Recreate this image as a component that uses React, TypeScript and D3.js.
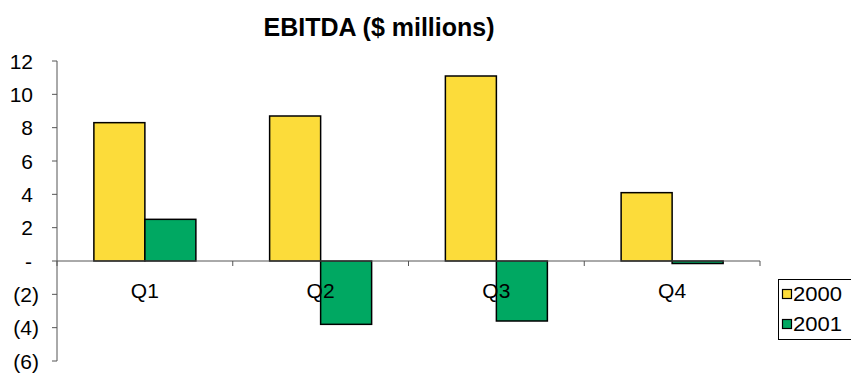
import React from "react";
import * as d3 from "d3";

const categories = ["Q1", "Q2", "Q3", "Q4"];
const seriesNames = ["2000", "2001"];
const values2000 = [8.3, 8.7, 11.1, 4.1];
const values2001 = [2.5, -3.8, -3.6, -0.15];
const yTicks = [12, 10, 8, 6, 4, 2, 0, -2, -4, -6];
const colors = ["#FCDC3A", "#00A862"];

function fmt(v: number) {
  if (v === 0) return "-";
  if (v < 0) return `(${Math.abs(v)})`;
  return String(v);
}

export default function App() {
  const W = 851, H = 377;
  const x0 = 57, x1 = 760;
  const y = d3.scaleLinear().domain([-6, 12]).range([361, 61]);
  const xb = d3.scaleBand().domain(categories).range([x0, x1]).paddingInner(0).paddingOuter(0);
  const bw = 51;
  const data = [values2000, values2001];
  const zeroY = y(0);
  return (
    <svg width={W} height={H} style={{ position: "absolute", left: 0, top: 0, fontFamily: "'Liberation Sans', Arial, sans-serif" }}>
      <rect width={W} height={H} fill="#fff" />
      <text x={379} y={36} textAnchor="middle" fontSize={25} fontWeight="bold">EBITDA ($ millions)</text>
      {/* y axis */}
      <line x1={x0} x2={x0} y1={y(12)} y2={y(-6)} stroke="#555" strokeWidth={1} />
      {yTicks.map((t) => (
        <g key={t}>
          <line x1={x0 - 5} x2={x0} y1={y(t)} y2={y(t)} stroke="#555" />
          <text
            x={t < 0 ? 39 : t === 0 ? 32 : 33}
            y={y(t)}
            dy="0.36em"
            textAnchor="end"
            fontSize={21}
          >{fmt(t)}</text>
        </g>
      ))}
      {/* bars */}
      {categories.map((c, i) => {
        const cx = (xb(c) as number) + xb.bandwidth() / 2;
        return data.map((vals, s) => {
          const v = vals[i];
          const bx = cx - bw + s * bw;
          const top = Math.min(y(v), zeroY);
          const h = Math.abs(y(v) - zeroY);
          return (
            <rect key={c + s} x={bx} y={top} width={bw} height={Math.max(h, 1.5)} fill={colors[s]} stroke="#000" strokeWidth={1.5} />
          );
        });
      })}
      {/* x axis */}
      <line x1={x0} x2={x1} y1={zeroY} y2={zeroY} stroke="#555" />
      {[...categories.map((c) => xb(c) as number), x1].map((tx, i) => (
        <line key={i} x1={tx} x2={tx} y1={zeroY} y2={zeroY + 5} stroke="#555" />
      ))}
      {categories.map((c) => (
        <text key={c} x={(xb(c) as number) + xb.bandwidth() / 2} y={298} textAnchor="middle" fontSize={21}>{c}</text>
      ))}
      {/* legend */}
      <rect x={778.5} y={279.5} width={80} height={60} fill="#fff" stroke="#000" />
      {seriesNames.map((n, s) => (
        <g key={n}>
          <rect x={782.5} y={289.5 + s * 30} width={9} height={9} fill={colors[s]} stroke="#000" strokeWidth={1.2} />
          <text x={793} y={301 + s * 30} fontSize={20} textLength={49} lengthAdjust="spacingAndGlyphs">{n}</text>
        </g>
      ))}
    </svg>
  );
}
